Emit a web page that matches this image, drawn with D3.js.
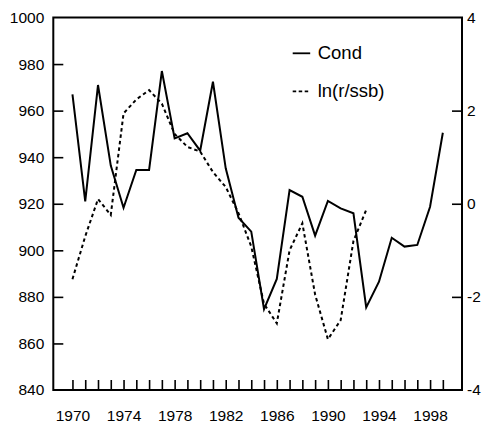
<!DOCTYPE html>
<html>
<head>
<meta charset="utf-8">
<script src="https://cdn.jsdelivr.net/npm/d3@7"></script>
<style>
  html, body { margin: 0; padding: 0; background: #fff; }
  svg { display: block; font-family: Arial, "Liberation Sans", sans-serif; }
</style>
</head>
<body>
<svg id="chart" width="485" height="424"></svg>
<script>
// ---- data ----
const years = [1970,1971,1972,1973,1974,1975,1976,1977,1978,1979,1980,1981,1982,1983,1984,
               1985,1986,1987,1988,1989,1990,1991,1992,1993,1994,1995,1996,1997,1998,1999];
const cond = [967, 921, 971, 936.4, 918.3, 934.5, 934.5, 977, 948.1, 950.3, 942.8, 972.4, 935.2, 914, 908,
              874.7, 887.7, 925.9, 923, 906.3, 921.2, 918, 915.9, 875.5, 886.5, 905.4, 901.6, 902.3, 918.7, 950.5];
const lnYears = years.slice(0, 24);
const lnrssb = [-1.62, -0.7, 0.1, -0.24, 1.94, 2.24, 2.44, 2.15, 1.5, 1.22, 1.12, 0.68, 0.36, -0.2, -0.92,
                -2.15, -2.57, -1.0, -0.42, -1.95, -2.91, -2.5, -0.8, -0.13];
const leftTicks = [840, 860, 880, 900, 920, 940, 960, 980, 1000];
const rightTicks = [-4, -2, 0, 2, 4];
const yearLabels = [1970, 1974, 1978, 1982, 1986, 1990, 1994, 1998];
const legendLabels = ["Cond", "ln(r/ssb)"];

// ---- layout ----
const L = 53.3, R = 462, T = 17.5, B = 390;
const svg = d3.select("#chart");

const x = d3.scaleLinear().domain([1968.5, 2000.5]).range([L, R]);
const yL = d3.scaleLinear().domain([840, 1000]).range([B, T]);
const yR = d3.scaleLinear().domain([-4, 4]).range([B, T]);

// axes
const gl = svg.append("g").attr("transform", `translate(${L},0)`)
  .call(d3.axisLeft(yL).tickValues(leftTicks).tickSizeInner(-10).tickSizeOuter(0).tickPadding(9)
    .tickFormat(d => String(d)));
const gr = svg.append("g").attr("transform", `translate(${R},0)`)
  .call(d3.axisRight(yR).tickValues(rightTicks).tickSizeInner(-10).tickSizeOuter(0).tickPadding(5)
    .tickFormat(d => String(d)));
const gb = svg.append("g").attr("transform", `translate(0,${B})`)
  .call(d3.axisBottom(x).tickValues(years).tickSizeInner(-10).tickSizeOuter(0).tickPadding(20)
    .tickFormat(d => yearLabels.includes(d) ? String(d) : ""));

[gl, gr, gb].forEach(g => {
  g.select(".domain").remove();
  g.selectAll(".tick line").attr("stroke", "#000").attr("stroke-width", 1.6);
  g.selectAll(".tick text").attr("fill", "#000").style("font-size", "15.5px");
});
gr.selectAll(".tick").filter(d => d === -4 || d === 4).select("line").remove();
gl.selectAll(".tick").filter(d => d === 840 || d === 1000).select("line").remove();

// frame
svg.append("rect")
  .attr("x", L).attr("y", T).attr("width", R - L).attr("height", B - T)
  .attr("fill", "none").attr("stroke", "#000").attr("stroke-width", 2);

// series
const lineCond = d3.line().x((d, i) => x(years[i])).y(d => yL(d));
svg.append("path").datum(cond)
  .attr("d", lineCond).attr("fill", "none").attr("stroke", "#000")
  .attr("stroke-width", 2).attr("stroke-linejoin", "miter");

const lineLn = d3.line().x((d, i) => x(lnYears[i])).y(d => yR(d));
svg.append("path").datum(lnrssb)
  .attr("d", lineLn).attr("fill", "none").attr("stroke", "#000")
  .attr("stroke-width", 2).attr("stroke-dasharray", "3.5,3");

// legend
const leg = svg.append("g").attr("transform", "translate(292.7,0)");
const legY = [53.3, 91.3];
legendLabels.forEach((lab, i) => {
  leg.append("line").attr("x1", 0).attr("x2", 17.5).attr("y1", legY[i]).attr("y2", legY[i])
    .attr("stroke", "#000").attr("stroke-width", 1.8)
    .attr("stroke-dasharray", i === 1 ? "3.5,2.5" : null);
  leg.append("text").attr("x", 25).attr("y", legY[i] + 5.5)
    .style("font-size", "18.5px").attr("fill", "#000").text(lab);
});
</script>
</body>
</html>
